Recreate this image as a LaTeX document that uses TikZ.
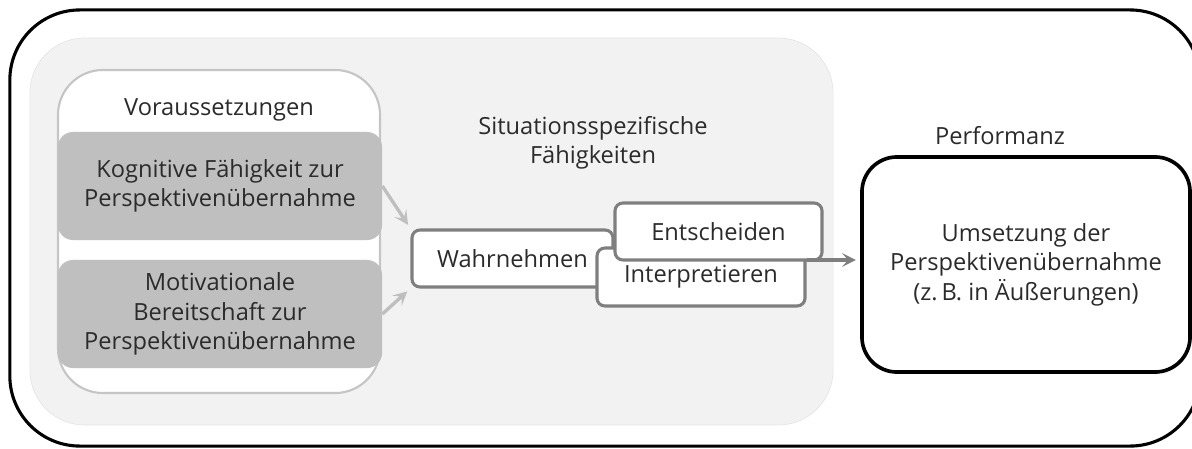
\documentclass[tikz,border=0pt]{standalone}
\usepackage{fontspec}
\setmainfont{Open Sans}
\usetikzlibrary{positioning,arrows.meta,calc}
\definecolor{hgrau}{HTML}{F2F2F2}
\definecolor{mgrau}{HTML}{BFBFBF}
\definecolor{dgrau}{HTML}{7F7F7F}
\definecolor{schrift}{HTML}{2B2B2B}
\tikzset{
  rahmen/.style={draw=black,line width=2.2pt,rounded corners=1.75cm,minimum width=29.75cm,minimum height=10.9cm,inner sep=0pt},
  flaeche/.style={draw=black!10,fill=hgrau,line width=0.5pt,rounded corners=1.375cm,minimum width=20.075cm,minimum height=9.675cm,inner sep=0pt},
  vbox/.style={draw=mgrau!90,fill=white,line width=1.5pt,rounded corners=1.125cm,minimum width=8.05cm,minimum height=8.075cm,inner sep=0pt},
  gbox/.style={fill=mgrau,rounded corners=0.375cm,minimum width=8.1cm,minimum height=2.7cm,inner sep=0pt,align=center,text=schrift},
  sbox/.style={draw=dgrau,fill=white,line width=2.2pt,rounded corners=0.2cm,minimum height=1.425cm,inner sep=0pt,text=schrift},
  pbox/.style={draw=black,fill=white,line width=2.6pt,rounded corners=0.875cm,minimum width=8.2cm,minimum height=5.375cm,inner sep=0pt,align=center,text=schrift},
  titel/.style={align=center,text=schrift,inner sep=0pt},
  pfeilH/.style={-{Stealth[length=10pt,width=10pt,inset=4.5pt]},draw=mgrau,line width=2.4pt},
  pfeilD/.style={-{Stealth[length=10pt,width=10pt,inset=4.5pt]},draw=dgrau,line width=2.4pt},
}
\begin{document}
\begin{tikzpicture}[x=0.025cm,y=-0.025cm,font=\fontsize{16.8}{21}\selectfont]
  \useasboundingbox (0,0) rectangle (1192,448);
  % Rahmen und Hintergrund
  \node[rahmen] (aussen) at (605,228) {};
  \node[flaeche] (hg) at (431.5,231.5) {};
  % Voraussetzungen
  \node[vbox] (vor) at (219,231.5) {};
  \node[titel] (vortitel) at (219,110) {Voraussetzungen};
  \node[gbox] (kog) at (220,186) {Kognitive Fähigkeit zur\\Perspektivenübernahme};
  \node[gbox] (mot) at (220,314) {Motivationale\\Bereitschaft zur\\Perspektivenübernahme};
  % situationsspezifische Faehigkeiten
  \node[titel] (sittitel) at (593,143) {Situationsspezifische\\Fähigkeiten};
  \node[sbox,minimum width=5.025cm] (wahr) at (512.5,258.5) {Wahrnehmen};
  \node[sbox,minimum width=5.2cm,minimum height=1.45cm] (inter) at (701,277) {\raisebox{-5pt}{Interpretieren}};
  \node[sbox,minimum width=5.175cm] (ent) at (718.5,231.5) {Entscheiden};
  % Performanz
  \node[titel] (perftitel) at (1000,136) {Performanz};
  \node[pbox] (perf) at (1026,264.5) {Umsetzung der\\Perspektivenübernahme\\(z.\,B. in Äußerungen)};
  % Pfeile
  \draw[pfeilH,shorten >=3pt] (kog.east) -- (wahr.north west);
  \draw[pfeilH,shorten >=3pt] (mot.east) -- (wahr.south west);
  \coordinate (aus) at ($(inter.east)+(0,-17)$);
  \draw[pfeilD,shorten >=3pt] (aus) -- (aus -| perf.west);
\end{tikzpicture}
\end{document}
